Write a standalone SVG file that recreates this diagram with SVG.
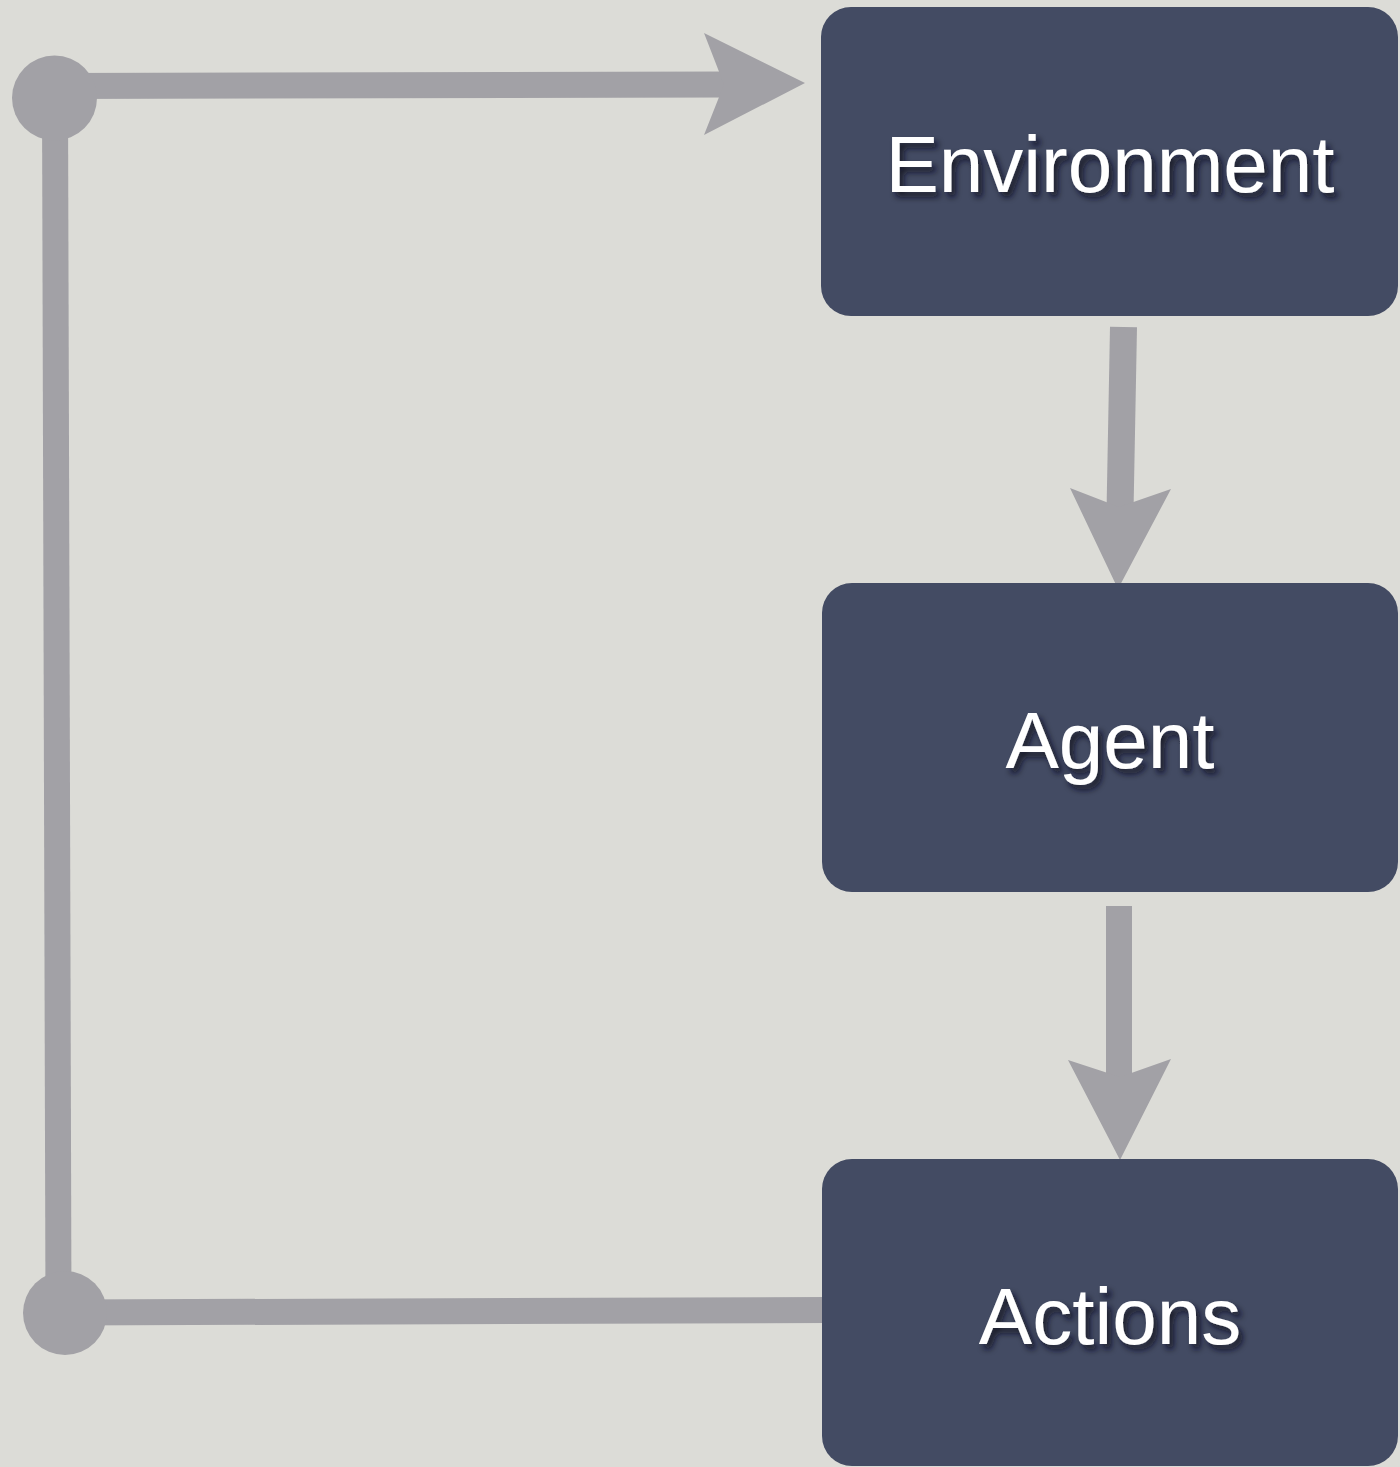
<svg xmlns="http://www.w3.org/2000/svg" width="1400" height="1467" viewBox="0 0 1400 1467">
  <defs>
    <filter id="noise" x="0" y="0" width="100%" height="100%">
      <feTurbulence type="fractalNoise" baseFrequency="0.9" numOctaves="2" seed="3" result="t"/>
      <feColorMatrix type="matrix" values="0 0 0 0 0.5  0 0 0 0 0.5  0 0 0 0 0.5  0 0 0 0.35 0" in="t" result="n"/>
      <feComposite in="n" in2="SourceGraphic" operator="in" result="nc"/>
      <feBlend in="SourceGraphic" in2="nc" mode="normal"/>
    </filter>
    <filter id="tshadow" x="-10%" y="-30%" width="130%" height="170%">
      <feDropShadow dx="4" dy="5" stdDeviation="3" flood-color="#0d1020" flood-opacity="0.85"/>
    </filter>
    <style>
      .box { fill: #434b63; }
      .label { font-family: "Liberation Sans", Arial, sans-serif; font-size: 80px; fill: #ffffff; text-anchor: middle; filter: url(#tshadow); }
      .wire { stroke: #a2a1a6; stroke-width: 26; fill: none; }
      .head { fill: #a2a1a6; }
    </style>
  </defs>
  <rect x="0" y="0" width="1400" height="1467" fill="#dcdcd7"/>
  <rect x="0" y="0" width="1400" height="1467" fill="#dcdcd7" filter="url(#noise)" opacity="0.6"/>

  <g id="connectors">
    <line class="wire" x1="60" y1="86" x2="726" y2="84.5"/>
    <polygon class="head" points="805,83 704,33 724,84.5 704,135"/>
    <line class="wire" x1="55" y1="98" x2="58.5" y2="1313"/>
    <line class="wire" x1="65" y1="1312.5" x2="828" y2="1310"/>
    <circle class="head" cx="54.5" cy="98" r="42.5"/>
    <circle class="head" cx="65" cy="1313" r="42"/>
    <line class="wire" x1="1123.5" y1="327" x2="1120" y2="512" style="stroke-width:27"/>
    <polygon class="head" points="1070,488 1118,589 1171,489 1119,507"/>
    <line class="wire" x1="1119" y1="906" x2="1119" y2="1082"/>
    <polygon class="head" points="1068,1060 1120,1160 1171,1059 1120,1077"/>
  </g>

  <g id="node-environment">
    <rect class="box" x="821" y="7" width="577" height="309" rx="30" ry="30"/>
    <text class="label" x="1110" y="192">Environment</text>
  </g>
  <g id="node-agent">
    <rect class="box" x="822" y="583" width="576" height="309" rx="30" ry="30"/>
    <text class="label" x="1110" y="768">Agent</text>
  </g>
  <g id="node-actions">
    <rect class="box" x="822" y="1159" width="576" height="307" rx="30" ry="30"/>
    <text class="label" x="1110" y="1344">Actions</text>
  </g>
</svg>
